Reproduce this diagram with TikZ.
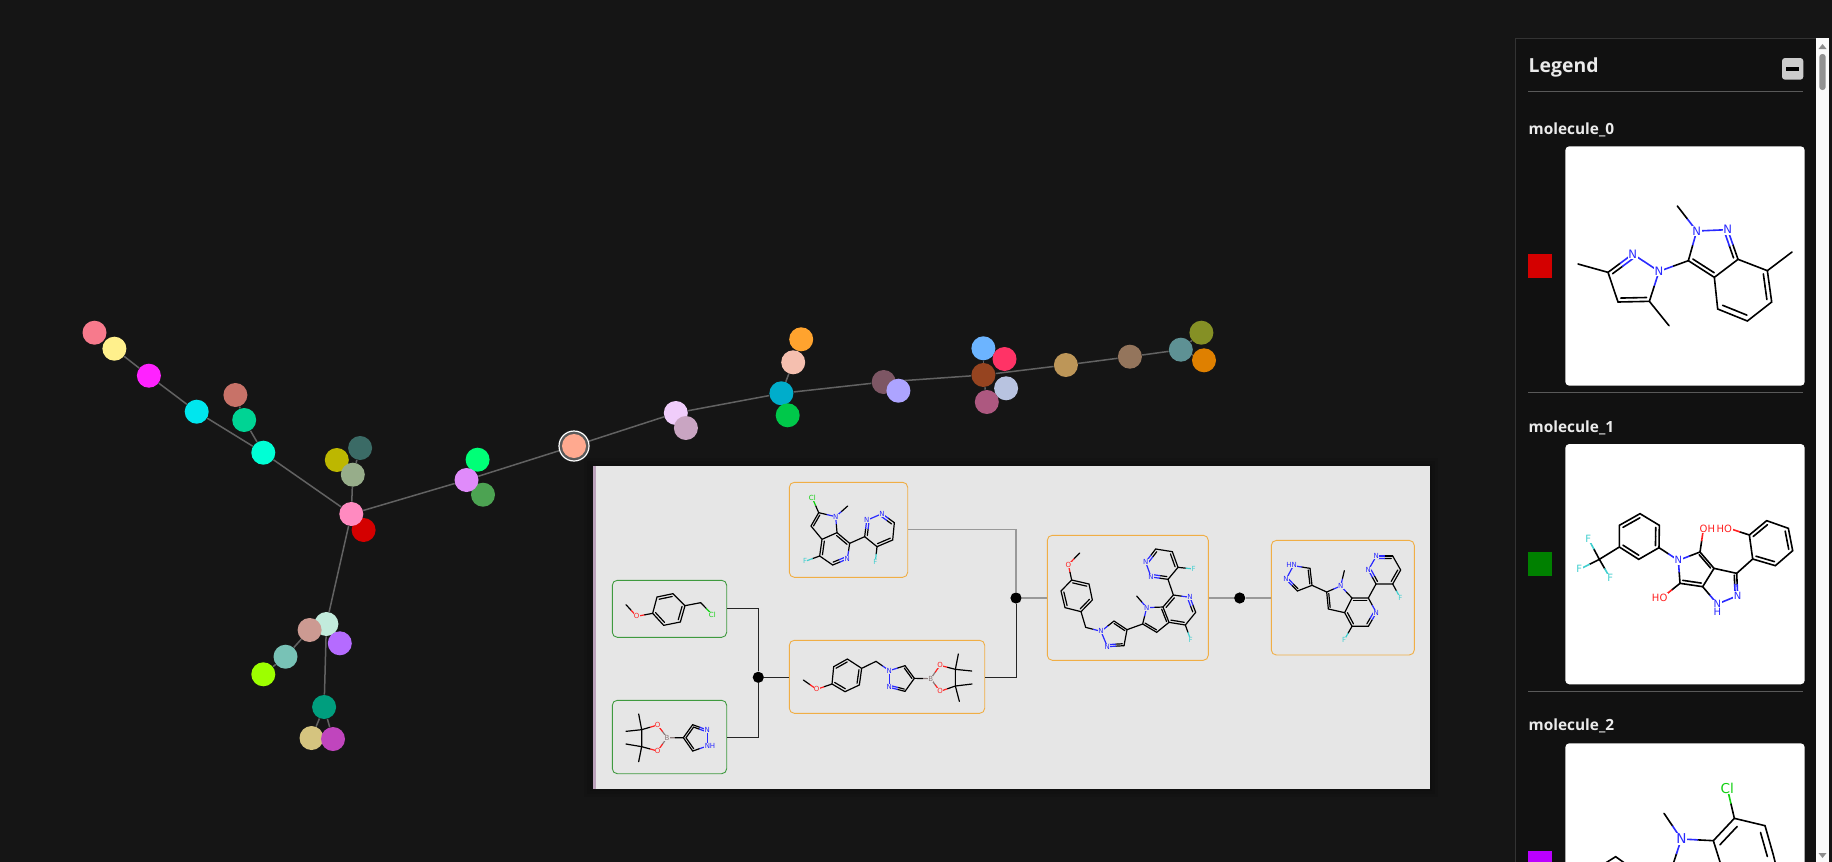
\documentclass[tikz,border=0pt]{standalone}
\usepackage{fontspec}
\setmainfont{Open Sans}
\newfontfamily\atomfont{DejaVu Sans}
\usetikzlibrary{calc}
\usetikzlibrary{backgrounds}
\definecolor{pagebg}{HTML}{151515}
\definecolor{legendbg}{HTML}{111111}
\definecolor{panelbg}{HTML}{E6E6E6}
\definecolor{shade1}{HTML}{131313}
\definecolor{shade2}{HTML}{111111}
\definecolor{shade3}{HTML}{0F0F0F}
\definecolor{linkgrey}{HTML}{626262}
\definecolor{boxgreen}{HTML}{3F9A3F}
\definecolor{boxorange}{HTML}{F0AE45}
\definecolor{stripcol}{HTML}{BBA2BB}
\definecolor{swatchpurple}{HTML}{BB00FF}
\definecolor{atomN}{HTML}{2A2AFF}
\definecolor{atomO}{HTML}{FF2020}
\definecolor{atomF}{HTML}{40CFCF}
\definecolor{atomCl}{HTML}{10D010}
\definecolor{atomB}{HTML}{8A7A7A}
\definecolor{cPink}{HTML}{F77A8C}
\definecolor{cYellow}{HTML}{FFF08C}
\definecolor{cMagenta}{HTML}{FF22FF}
\definecolor{cCyan}{HTML}{00E6EE}
\definecolor{cCoral}{HTML}{C87268}
\definecolor{cJade}{HTML}{00D494}
\definecolor{cAqua}{HTML}{00FFD5}
\definecolor{cSlate}{HTML}{3B6B66}
\definecolor{cOlive}{HTML}{BDB700}
\definecolor{cSage}{HTML}{97AD8A}
\definecolor{cHot}{HTML}{FF8AC0}
\definecolor{cRed}{HTML}{D40000}
\definecolor{cViolet}{HTML}{E08BFA}
\definecolor{cSpring}{HTML}{00FF77}
\definecolor{cLeaf}{HTML}{4CA352}
\definecolor{cSalmon}{HTML}{FFA98F}
\definecolor{cMint}{HTML}{C2EBDC}
\definecolor{cRose}{HTML}{CC9A92}
\definecolor{cPurple}{HTML}{B56BFF}
\definecolor{cTealgray}{HTML}{78C2B6}
\definecolor{cLime}{HTML}{9DFF00}
\definecolor{cTeal}{HTML}{009E7E}
\definecolor{cTan}{HTML}{D5C47F}
\definecolor{cOrchid}{HTML}{C045BD}
\definecolor{cLilac}{HTML}{F0CDFB}
\definecolor{cMauve}{HTML}{C9A5C2}
\definecolor{cOrange}{HTML}{FFA32E}
\definecolor{cPeach}{HTML}{F5BFAF}
\definecolor{cOcean}{HTML}{00ADCB}
\definecolor{cGrass}{HTML}{00C84A}
\definecolor{cPlum}{HTML}{7D5664}
\definecolor{cLavender}{HTML}{ADA4FF}
\definecolor{cSky}{HTML}{6CB4FF}
\definecolor{cCrimson}{HTML}{FF3366}
\definecolor{cBrown}{HTML}{964420}
\definecolor{cIce}{HTML}{B8C3E0}
\definecolor{cBerry}{HTML}{AD5880}
\definecolor{cGold}{HTML}{BD9658}
\definecolor{cUmber}{HTML}{94755C}
\definecolor{cSteel}{HTML}{5E9194}
\definecolor{cMoss}{HTML}{859025}
\definecolor{cAmber}{HTML}{DF8000}
\newcommand{\hbond}[4]{\draw[color=#1] (#2) -- ($(#2)!0.5!(#4)$); \draw[color=#3] ($(#2)!0.5!(#4)$) -- (#4);}
\newcommand{\inb}[4][black]{\draw ($(#2)!0.18!#4$) -- ($($(#2)!0.18!#4$)!0.5!($(#3)!0.18!#4$)$); \draw[color=#1] ($($(#2)!0.18!#4$)!0.5!($(#3)!0.18!#4$)$) -- ($(#3)!0.18!#4$);}
\newcommand{\atom}[4]{\node[atomlabel,text=#3] (#1) at #2 {#4};}

\begin{document}
\begin{tikzpicture}[x=0.5pt,y=-0.5pt,
		mol/.style={circle,fill=#1,inner sep=0pt,minimum size=12pt},
		link/.style={draw=linkgrey,line width=0.75pt},
		reagent/.style={rectangle,rounded corners=2.5pt,draw=boxgreen,line width=0.45pt,inner sep=0pt},
		target/.style={rectangle,rounded corners=2.5pt,draw=boxorange,line width=0.45pt,inner sep=0pt},
		rxn/.style={circle,fill=black,inner sep=0pt,minimum size=5.6pt},
		wire/.style={draw=black!85,line width=0.5pt},
		greywire/.style={draw=black!40,line width=0.55pt},
		atomlabel/.style={fill=atombg,inner sep=0.2pt,font=\atomfont\fontsize{3.5}{4}\selectfont},
		bigatoms/.style={atomlabel/.append style={inner sep=0.3pt,font=\atomfont\fontsize{#1}{8}\selectfont}},
		panelmol/.style={line width=0.6pt,line cap=round,x=0.16667pt,y=-0.16667pt},
		legendmol/.style={line width=0.8pt,line cap=round,x=0.16667pt,y=-0.16667pt},
		legendtext/.style={anchor=base west,inner sep=0pt,text=white!92!black}]
		\useasboundingbox (0,0) rectangle (1832,862);
		\colorlet{atombg}{panelbg}

		% graph
		\node[circle,fill=black!65!white,draw=white,line width=0.6pt,inner sep=0pt,minimum size=15pt] (ring) at (574,446) {};
		\node[mol=cPink]     (m0)  at (94.5,332.7) {};
		\node[mol=cYellow]   (m1)  at (114.4,348.7) {};
		\node[mol=cMagenta]  (m2)  at (148.9,375.7) {};
		\node[mol=cCyan]     (m3)  at (196.7,411.7) {};
		\node[mol=cCoral]    (m4)  at (235.4,395) {};
		\node[mol=cJade]     (m5)  at (244.2,420) {};
		\node[mol=cAqua]     (m6)  at (263.3,452.7) {};
		\node[mol=cSlate]    (m7)  at (360.1,448) {};
		\node[mol=cOlive]    (m8)  at (336.8,460) {};
		\node[mol=cSage]     (m9)  at (352.8,474.7) {};
		\node[mol=cRed]      (m10) at (363.6,530) {};
		\node[mol=cHot]      (m11) at (351.3,514) {};
		\node[mol=cSpring]   (m12) at (477.6,459.7) {};
		\node[mol=cLeaf]     (m13) at (483,494.7) {};
		\node[mol=cViolet]   (m14) at (466.5,480) {};
		\node[mol=cSalmon]   (m15) at (574,446) {};
		\node[mol=cMint]     (m16) at (326.4,624) {};
		\node[mol=cRose]     (m17) at (309.6,630) {};
		\node[mol=cPurple]   (m18) at (339.8,643.3) {};
		\node[mol=cTealgray] (m19) at (285.5,656.7) {};
		\node[mol=cLime]     (m20) at (263.3,674.3) {};
		\node[mol=cTeal]     (m21) at (324.1,707) {};
		\node[mol=cTan]      (m22) at (311.5,738) {};
		\node[mol=cOrchid]   (m23) at (333,739) {};
		\node[mol=cLilac]    (m24) at (675.8,413) {};
		\node[mol=cMauve]    (m25) at (685.9,428) {};
		\node[mol=cOrange]   (m26) at (801.2,339.3) {};
		\node[mol=cPeach]    (m27) at (793.2,362.3) {};
		\node[mol=cOcean]    (m28) at (781.4,393.3) {};
		\node[mol=cGrass]    (m29) at (787.7,415.3) {};
		\node[mol=cPlum]     (m30) at (883.7,382) {};
		\node[mol=cLavender] (m31) at (898.4,390.7) {};
		\node[mol=cSky]      (m32) at (983.4,348.3) {};
		\node[mol=cCrimson]  (m33) at (1004.5,359) {};
		\node[mol=cIce]      (m34) at (1006.1,388.3) {};
		\node[mol=cBrown]    (m35) at (983.4,375) {};
		\node[mol=cBerry]    (m36) at (986.8,402) {};
		\node[mol=cGold]     (m37) at (1065.9,365) {};
		\node[mol=cUmber]    (m38) at (1129.9,356.7) {};
		\node[mol=cMoss]     (m39) at (1201.4,332.7) {};
		\node[mol=cAmber]    (m40) at (1204,360.3) {};
		\node[mol=cSteel]    (m41) at (1180.8,349.7) {};

		\begin{scope}[on background layer]
		\fill[pagebg] (0,0) rectangle (1832,862);
		\path[link]
		(m1) edge (m2) (m2) edge (m3) (m3) edge (m6) (m6) edge (m5) (m5) edge (m4)
		(m6) edge (m11) (m11) edge (m9) (m9) edge (m7) (m11) edge (m14) (m14) edge (ring)
		(m11) edge (m16) (m16) edge (m21) (m21) edge (m22) (m21) edge (m23)
		(m17) edge (m19) (m19) edge (m20)
		(ring) edge (m24) (m24) edge (m28) (m28) edge (m27) (m28) edge (m30)
		(m30) edge (m35) (m35) edge (m32) (m35) edge (m36) (m35) edge (m37)
		(m37) edge (m38) (m38) edge (m41) (m41) edge (m39) (m41) edge (m40);
		\end{scope}

		% reaction panel
		\foreach \d/\s in {8/shade1,5/shade2,2/shade3}
			\fill[\s] (592-\d,466-\d) rectangle (1430+\d,789+\d);
		\fill[panelbg] (592.7,466) rectangle (1430,789);
		\fill[stripcol] (592.7,466) rectangle (596,789);

		\node[reagent,minimum width=57.2pt,minimum height=28.5pt] (in1) at (669.5,608.8) {};
		\node[reagent,minimum width=57.2pt,minimum height=36.7pt] (in2) at (669.5,737) {};
		\node[target,minimum width=59.2pt,minimum height=47.5pt]  (top) at (848.5,529.8) {};
		\node[target,minimum width=97.7pt,minimum height=36.5pt]  (mid) at (887,676.8) {};
		\node[target,minimum width=80.5pt,minimum height=62.5pt]  (joined) at (1127.8,597.8) {};
		\node[target,minimum width=71.5pt,minimum height=57.3pt]  (final) at (1342.8,597.7) {};
		\node[rxn] (r1) at (758.3,677.3) {};
		\node[rxn] (r2) at (1016,598) {};
		\node[rxn] (r3) at (1239.7,598) {};
		\draw[wire] (in1.east) -| (r1);
		\draw[wire] (in2.east) -| (r1);
		\draw[wire] (r1) -- (mid.west |- r1);
		\draw[wire] (mid.east |- r1) -| (r2);
		\draw[greywire] (top.east) -| (r2);
		\draw[greywire] (r2) -- (joined.west |- r2);
		\draw[greywire] (joined.east |- r2) -- (r3);
		\draw[greywire] (r3) -- (final.west |- r3);

		% chloride reagent
		\begin{scope}[shift={(590,460)},panelmol]
		\path (108,434) coordinate (a1) (140,469) coordinate (a2) (188,460) coordinate (a3) (201,411) coordinate (a4)
		(249,401) coordinate (a5) (285,437) coordinate (a6) (271,486) coordinate (a7) (221,496) coordinate (a8)
		(332,428) coordinate (a9) (367,464) coordinate (a10);
		\hbond{black}{a1}{atomO}{a2} \hbond{atomO}{a2}{black}{a3} \hbond{black}{a9}{atomCl}{a10}
		\draw (a3) -- (a4) -- (a5) -- (a6) -- (a7) -- (a8) -- cycle (a6) -- (a9);
		\inb{a4}{a5}{(236,448)} \inb{a6}{a7}{(236,448)} \inb{a8}{a3}{(236,448)}
		\atom{oa}{(a2)}{atomO}{O} \atom{cla}{(a10)}{atomCl}{Cl}
		\end{scope}

		% boronate reagent
		\begin{scope}[shift={(590,460)},panelmol]
		\path (231,833) coordinate (b1) (203,795) coordinate (b2) (203,873) coordinate (b3) (155,809) coordinate (b4)
		(155,860) coordinate (b5) (146,762) coordinate (b6) (108,814) coordinate (b7) (108,852) coordinate (b8)
		(146,905) coordinate (b9) (280,833) coordinate (b10) (308,794) coordinate (b11) (352,810) coordinate (b12)
		(352,858) coordinate (b13) (308,873) coordinate (b14);
		\draw (b4) -- (b5) (b4) -- (b6) (b4) -- (b7) (b5) -- (b8) (b5) -- (b9) (b10) -- (b11) (b14) -- (b10);
		\hbond{atomO}{b2}{black}{b4} \hbond{atomO}{b3}{black}{b5} \hbond{atomB}{b1}{atomO}{b2} \hbond{atomB}{b1}{atomO}{b3}
		\hbond{atomB}{b1}{black}{b10} \hbond{black}{b11}{atomN}{b12} \hbond{black}{b14}{atomN}{b13}
		\draw[atomN] (b12) -- (b13);
		\inb{b10}{b11}{(324,834)} \inb[atomN]{b11}{b12}{(324,834)} \inb{b14}{b10}{(324,834)}
		\atom{ob1}{(b2)}{atomO}{O} \atom{ob2}{(b3)}{atomO}{O} \atom{bb}{(b1)}{atomB}{B}
		\atom{nb1}{(b12)}{atomN}{N} \atom{nb2}{(360,858)}{atomN}{NH}
		\end{scope}

		% chloro azaindole
		\begin{scope}[shift={(590,460)},panelmol]
		\path (667,114) coordinate (c1) (686,158) coordinate (c2) (737,170) coordinate (c3) (773,138) coordinate (c4)
		(741,218) coordinate (c5) (663,198) coordinate (c6) (696,238) coordinate (c7) (689,288) coordinate (c8)
		(645,304) coordinate (c9) (728,315) coordinate (c10) (772,297) coordinate (c11) (779,250) coordinate (c12)
		(824,230) coordinate (c13) (830,181) coordinate (c14) (876,161) coordinate (c15) (913,188) coordinate (c16)
		(908,240) coordinate (c17) (861,260) coordinate (c18) (856,305) coordinate (c19);
		\draw (c2) -- (c6) -- (c7) -- (c5) -- (c12) -- (c13) (c7) -- (c8) -- (c10) (c16) -- (c17) -- (c18) -- (c13);
		\hbond{black}{c2}{atomCl}{c1} \hbond{black}{c2}{atomN}{c3} \hbond{atomN}{c3}{black}{c4} \hbond{atomN}{c3}{black}{c5}
		\hbond{black}{c8}{atomF}{c9} \hbond{black}{c10}{atomN}{c11} \hbond{black}{c12}{atomN}{c11} \hbond{black}{c13}{atomN}{c14}
		\hbond{black}{c16}{atomN}{c15} \hbond{black}{c18}{atomF}{c19} \draw[atomN] (c14) -- (c15);
		\inb{c6}{c2}{(705,197)} \inb{c7}{c8}{(735,267)} \inb[atomN]{c10}{c11}{(735,267)} \inb{c12}{c5}{(735,267)}
		\inb[atomN]{c13}{c14}{(868,210)} \inb[atomN]{c16}{c15}{(868,210)} \inb{c17}{c18}{(868,210)}
		\atom{clc}{(c1)}{atomCl}{Cl} \atom{nc1}{(c3)}{atomN}{N} \atom{fc1}{(c9)}{atomF}{F} \atom{nc2}{(c11)}{atomN}{N}
		\atom{nc3}{(c14)}{atomN}{N} \atom{nc4}{(c15)}{atomN}{N} \atom{fc2}{(c19)}{atomF}{F}
		\end{scope}

		% benzyl pyrazole boronate
		\begin{scope}[shift={(590,460)},panelmol]
		\path (640,660) coordinate (d1) (680,688) coordinate (d2) (726,672) coordinate (d3) (731,620) coordinate (d4)
		(772,597) coordinate (d5) (815,625) coordinate (d6) (808,675) coordinate (d7) (765,695) coordinate (d8)
		(858,604) coordinate (d9) (898,632) coordinate (d10) (898,682) coordinate (d11) (945,694) coordinate (d12)
		(973,655) coordinate (d13) (945,617) coordinate (d14) (1022,656) coordinate (d15) (1050,616) coordinate (d16)
		(1050,694) coordinate (d17) (1096,628) coordinate (d18) (1096,678) coordinate (d19) (1105,582) coordinate (d20)
		(1145,633) coordinate (d21) (1146,672) coordinate (d22) (1108,724) coordinate (d23);
		\draw (d3) -- (d4) -- (d5) -- (d6) -- (d7) -- (d8) -- cycle (d6) -- (d9) (d12) -- (d13) -- (d14);
		\draw (d18) -- (d19) (d18) -- (d20) (d18) -- (d21) (d19) -- (d22) (d19) -- (d23);
		\hbond{black}{d1}{atomO}{d2} \hbond{atomO}{d2}{black}{d3} \hbond{black}{d9}{atomN}{d10} \hbond{black}{d14}{atomN}{d10}
		\hbond{black}{d12}{atomN}{d11} \hbond{atomB}{d15}{black}{d13} \hbond{atomB}{d15}{atomO}{d16} \hbond{atomB}{d15}{atomO}{d17}
		\hbond{atomO}{d16}{black}{d18} \hbond{atomO}{d17}{black}{d19} \draw[atomN] (d10) -- (d11);
		\inb{d4}{d5}{(770,646)} \inb{d6}{d7}{(770,646)} \inb{d8}{d3}{(770,646)}
		\inb{d14}{d13}{(932,656)} \inb[atomN]{d12}{d11}{(932,656)}
		\atom{od1}{(d2)}{atomO}{O} \atom{nd1}{(d10)}{atomN}{N} \atom{nd2}{(d11)}{atomN}{N} \atom{bd}{(d15)}{atomB}{B}
		\atom{od2}{(d16)}{atomO}{O} \atom{od3}{(d17)}{atomO}{O}
		\end{scope}

		% coupled product
		\begin{scope}[shift={(990,460)},panelmol]
		\path (269,279) coordinate (e1) (235,314) coordinate (e2) (245,360) coordinate (e3) (297,372) coordinate (e4)
		(307,420) coordinate (e5) (273,455) coordinate (e6) (225,443) coordinate (e7) (213,393) coordinate (e8)
		(287,502) coordinate (e9) (333,514) coordinate (e10) (352,560) coordinate (e11) (402,557) coordinate (e12)
		(411,509) coordinate (e13) (372,483) coordinate (e14) (458,492) coordinate (e15) (470,443) coordinate (e16)
		(440,408) coordinate (e17) (519,441) coordinate (e18) (500,517) coordinate (e19) (537,487) coordinate (e20)
		(550,405) coordinate (e21) (600,412) coordinate (e22) (617,457) coordinate (e23) (586,495) coordinate (e24)
		(602,540) coordinate (e25) (534,358) coordinate (e26) (483,351) coordinate (e27) (467,306) coordinate (e28)
		(497,267) coordinate (e29) (547,275) coordinate (e30) (564,322) coordinate (e31) (611,327) coordinate (e32);
		\draw (e3) -- (e4) -- (e5) -- (e6) -- (e7) -- (e8) -- cycle (e6) -- (e9) (e12) -- (e13) -- (e14) (e13) -- (e15) -- (e19) -- (e20) -- (e18) -- (e21) -- (e26) -- (e31) -- (e30) -- (e29);
		\draw (e20) -- (e24) (e23) -- (e24);
		\hbond{black}{e1}{atomO}{e2} \hbond{atomO}{e2}{black}{e3} \hbond{black}{e9}{atomN}{e10} \hbond{black}{e14}{atomN}{e10}
		\hbond{black}{e12}{atomN}{e11} \hbond{black}{e15}{atomN}{e16} \hbond{atomN}{e16}{black}{e17} \hbond{atomN}{e16}{black}{e18}
		\hbond{black}{e21}{atomN}{e22} \hbond{black}{e23}{atomN}{e22} \hbond{black}{e24}{atomF}{e25} \hbond{black}{e26}{atomN}{e27}
		\hbond{black}{e29}{atomN}{e28} \hbond{black}{e31}{atomF}{e32} \draw[atomN] (e10) -- (e11) (e27) -- (e28);
		\inb{e3}{e4}{(260,408)} \inb{e5}{e6}{(260,408)} \inb{e7}{e8}{(260,408)}
		\inb{e14}{e13}{(374,525)} \inb[atomN]{e12}{e11}{(374,525)} \inb{e15}{e19}{(497,476)}
		\inb{e20}{e18}{(497,476)} \inb{e21}{e18}{(568,450)} \inb[atomN]{e23}{e22}{(568,450)} \inb{e24}{e20}{(568,450)}
		\inb[atomN]{e26}{e27}{(515,312)} \inb[atomN]{e29}{e28}{(515,312)} \inb{e30}{e31}{(515,312)}
		\atom{oe}{(e2)}{atomO}{O} \atom{ne1}{(e10)}{atomN}{N} \atom{ne2}{(e11)}{atomN}{N} \atom{ne3}{(e16)}{atomN}{N}
		\atom{ne4}{(e22)}{atomN}{N} \atom{fe1}{(e25)}{atomF}{F} \atom{ne5}{(e27)}{atomN}{N} \atom{ne6}{(e28)}{atomN}{N}
		\atom{fe2}{(e32)}{atomF}{F}
		\end{scope}

		% deprotected product
		\begin{scope}[shift={(990,460)},panelmol]
		\path (910,317) coordinate (f1) (888,358) coordinate (f2) (922,393) coordinate (f3) (966,376) coordinate (f4)
		(960,325) coordinate (f5) (1010,396) coordinate (f6) (1052,378) coordinate (f7) (1063,332) coordinate (f8)
		(1086,414) coordinate (f9) (1015,447) coordinate (f10) (1064,458) coordinate (f11) (1135,414) coordinate (f12)
		(1159,458) coordinate (f13) (1135,499) coordinate (f14) (1086,499) coordinate (f15) (1062,541) coordinate (f16)
		(1158,372) coordinate (f17) (1135,330) coordinate (f18) (1159,288) coordinate (f19) (1208,288) coordinate (f20)
		(1232,330) coordinate (f21) (1208,372) coordinate (f22) (1231,414) coordinate (f23);
		\draw (f3) -- (f4) -- (f5) (f4) -- (f6) -- (f10) -- (f11) -- (f9) -- (f12) -- (f17) -- (f22) -- (f21) -- (f20) (f11) -- (f15) -- (f14);
		\hbond{black}{f5}{atomN}{f1} \hbond{black}{f3}{atomN}{f2} \hbond{black}{f6}{atomN}{f7} \hbond{atomN}{f7}{black}{f8}
		\hbond{atomN}{f7}{black}{f9} \hbond{black}{f12}{atomN}{f13} \hbond{black}{f14}{atomN}{f13} \hbond{black}{f15}{atomF}{f16}
		\hbond{black}{f17}{atomN}{f18} \hbond{black}{f20}{atomN}{f19} \hbond{black}{f22}{atomF}{f23} \draw[atomN] (f1) -- (f2) (f18) -- (f19);
		\inb[atomN]{f3}{f2}{(930,353)} \inb{f4}{f5}{(930,353)} \inb{f6}{f10}{(1045,420)}
		\inb{f9}{f12}{(1110,457)} \inb[atomN]{f14}{f13}{(1110,457)} \inb{f15}{f11}{(1110,457)}
		\inb[atomN]{f17}{f18}{(1183,330)} \inb[atomN]{f20}{f19}{(1183,330)} \inb{f21}{f22}{(1183,330)}
		\atom{nf1}{(905,316)}{atomN}{HN} \atom{nf2}{(f2)}{atomN}{N} \atom{nf3}{(f7)}{atomN}{N} \atom{nf4}{(f13)}{atomN}{N}
		\atom{ff1}{(f16)}{atomF}{F} \atom{nf5}{(f18)}{atomN}{N} \atom{nf6}{(f19)}{atomN}{N} \atom{ff2}{(f23)}{atomF}{F}
		\end{scope}

		% legend
		\fill[legendbg] (1515.3,38.3) rectangle (1816,870);
		\draw[black!80!white,line width=0.5pt] (1515.3,870) -- (1515.3,38.3) -- (1816,38.3);
		\fill[white!98!black] (1816,38.3) rectangle (1829.3,870);
		\fill[black!43!white,rounded corners=1.5pt] (1819.3,54) rectangle (1825.7,90);
		\fill[black!45!white] (1818.5,49) -- (1822.5,44) -- (1826.5,49) -- cycle;
		\fill[black!45!white] (1818.5,853) -- (1822.5,858) -- (1826.5,853) -- cycle;
		\node[legendtext,font=\bfseries\fontsize{9.7}{12}\selectfont] (legendhead) at (1528.3,72.7) {Legend};
		\fill[black!20!white,rounded corners=1.5pt] (1782,58) rectangle (1803.3,79.7);
		\fill[black] (1786,67) rectangle (1799.3,70.7);
		\draw[black!65!white,line width=0.5pt] (1528.3,91.3) -- (1803,91.3);
		\draw[black!65!white,line width=0.5pt] (1528.3,392.3) -- (1803,392.3);
		\draw[black!65!white,line width=0.5pt] (1528.3,691.3) -- (1803,691.3);
		\node[legendtext,font=\bfseries\fontsize{7.7}{10}\selectfont] (name0) at (1528.3,134) {molecule\_0};
		\node[legendtext,font=\bfseries\fontsize{7.7}{10}\selectfont] (name1) at (1528.3,432.7) {molecule\_1};
		\node[legendtext,font=\bfseries\fontsize{7.7}{10}\selectfont] (name2) at (1528.3,730.7) {molecule\_2};
		\fill[white,rounded corners=2pt] (1565.3,146.3) rectangle (1804.7,385.7);
		\fill[white,rounded corners=2pt] (1565.3,444) rectangle (1804.7,684.3);
		\fill[white,rounded corners=2pt] (1565.3,743.3) rectangle (1804.7,880);
		\fill[cRed] (1528,254) rectangle (1552,278);
		\fill[black!50!green] (1528,552) rectangle (1552,576);
		\fill[swatchpurple] (1528,851) rectangle (1552,875);
		\colorlet{atombg}{white}

		% molecule 0 card
		\begin{scope}[shift={(1500,30)},legendmol,bigatoms=5.8]
		\path (234,702) coordinate (g1) (324,727) coordinate (g2) (398,672) coordinate (g3) (477,724) coordinate (g4)
		(448,814) coordinate (g5) (354,816) coordinate (g6) (507,887) coordinate (g7) (565,692) coordinate (g8)
		(590,603) coordinate (g9) (532,528) coordinate (g10) (683,599) coordinate (g11) (714,688) coordinate (g12)
		(643,742) coordinate (g13) (802,722) coordinate (g14) (815,816) coordinate (g15) (742,873) coordinate (g16)
		(653,837) coordinate (g17) (876,666) coordinate (g18);
		\draw (g1) -- (g2) -- (g6) -- (g5) -- (g7) (g8) -- (g13) -- (g12) -- (g14) -- (g15) -- (g16) -- (g17) -- (g13) (g14) -- (g18);
		\hbond{black}{g2}{atomN}{g3} \hbond{atomN}{g4}{black}{g5} \hbond{atomN}{g4}{black}{g8} \hbond{atomN}{g9}{black}{g8}
		\hbond{atomN}{g9}{black}{g10} \hbond{black}{g12}{atomN}{g11} \draw[atomN] (g3) -- (g4) (g9) -- (g11);
		\inb[atomN]{g2}{g3}{(400,750)} \inb{g5}{g6}{(400,750)} \inb{g8}{g13}{(640,665)} \inb[atomN]{g12}{g11}{(640,665)}
		\inb{g14}{g15}{(735,775)} \inb{g16}{g17}{(735,775)}
		\atom{ng1}{(g3)}{atomN}{N} \atom{ng2}{(g4)}{atomN}{N} \atom{ng3}{(g9)}{atomN}{N} \atom{ng4}{(g11)}{atomN}{N}
		\end{scope}

		% molecule 1 card
		\begin{scope}[shift={(1500,420)},legendmol,bigatoms=5]
		\path (265,356) coordinate (h1) (238,448) coordinate (h2) (331,475) coordinate (h3) (298,418) coordinate (h4)
		(358,381) coordinate (h5) (358,316) coordinate (h6) (420,281) coordinate (h7) (478,316) coordinate (h8)
		(477,383) coordinate (h9) (416,418) coordinate (h10) (535,421) coordinate (h11) (600,396) coordinate (h12)
		(610,328) coordinate (h13) (540,490) coordinate (h14) (490,530) coordinate (h15) (642,445) coordinate (h16)
		(608,500) coordinate (h17) (710,460) coordinate (h18) (713,527) coordinate (h19) (652,552) coordinate (h20)
		(758,417) coordinate (h21) (748,345) coordinate (h22) (690,326) coordinate (h23) (800,302) coordinate (h24)
		(865,325) coordinate (h25) (878,392) coordinate (h26) (826,437) coordinate (h27);
		\draw (h4) -- (h5) -- (h6) -- (h7) -- (h8) -- (h9) -- (h10) -- (h5) (h12) -- (h16) -- (h17) -- (h14) (h16) -- (h18) -- (h21) -- (h22) -- (h24) -- (h25) -- (h26) -- (h27) -- (h21);
		\hbond{black}{h4}{atomF}{h1} \hbond{black}{h4}{atomF}{h2} \hbond{black}{h4}{atomF}{h3} \hbond{black}{h9}{atomN}{h11}
		\hbond{black}{h12}{atomN}{h11} \hbond{black}{h14}{atomN}{h11} \hbond{black}{h12}{atomO}{h13} \hbond{black}{h14}{atomO}{h15}
		\hbond{black}{h18}{atomN}{h19} \hbond{black}{h17}{atomN}{h20} \hbond{black}{h22}{atomO}{h23} \draw[atomN] (h19) -- (h20);
		\inb{h6}{h7}{(418,350)} \inb{h8}{h9}{(418,350)} \inb{h10}{h5}{(418,350)}
		\inb{h12}{h16}{(585,440)} \inb{h17}{h14}{(585,440)} \inb[atomN]{h18}{h19}{(670,490)}
		\inb{h22}{h24}{(812,370)} \inb{h25}{h26}{(812,370)} \inb{h27}{h21}{(812,370)}
		\atom{fh1}{(h1)}{atomF}{F} \atom{fh2}{(h2)}{atomF}{F} \atom{fh3}{(h3)}{atomF}{F} \atom{nh1}{(h11)}{atomN}{N}
		\atom{oh1}{(622,326)}{atomO}{OH} \atom{oh2}{(479,533)}{atomO}{HO} \atom{oh3}{(673,326)}{atomO}{HO}
		\atom{nh2}{(h19)}{atomN}{N} \atom{nh3}{(h20)}{atomN}{N} \atom{nh4}{(652,577)}{atomN}{H}
		\end{scope}

		% molecule 2 card
		\begin{scope}[shift={(1500,420)},legendmol,bigatoms=6.8]
		\path (682,1105) coordinate (k1) (703,1195) coordinate (k2) (544,1257) coordinate (k3) (492,1180) coordinate (k4)
		(640,1262) coordinate (k5) (795,1217) coordinate (k6) (820,1305) coordinate (k7) (666,1345) coordinate (k8)
		(515,1345) coordinate (k9) (347,1310) coordinate (k10) (315,1330) coordinate (k11) (375,1330) coordinate (k12);
		\draw (k2) -- (k5) -- (k8) (k2) -- (k6) -- (k7) -- (830,1345) (k11) -- (k10) -- (k12);
		\hbond{black}{k2}{atomCl}{k1} \hbond{black}{k5}{atomN}{k3} \hbond{black}{k4}{atomN}{k3} \hbond{black}{k9}{atomN}{k3}
		\inb{k2}{k5}{(750,1330)} \inb{k6}{k7}{(720,1330)}
		\atom{clk}{(k1)}{atomCl}{Cl} \atom{nk}{(k3)}{atomN}{N}
		\end{scope}
\end{tikzpicture}
\end{document}
